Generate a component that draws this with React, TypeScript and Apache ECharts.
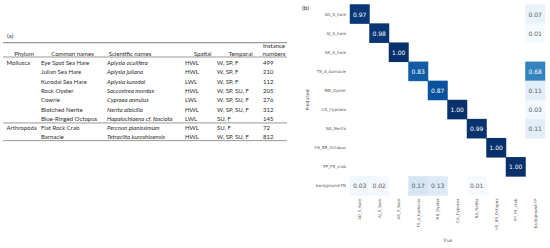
import React, { useEffect, useRef } from "react";
import * as echarts from "echarts";

// ---- Table (a) data ----
const tableHeaders = ["Phylum", "Common names", "Scientific names", "Spatial", "Temporal"];
const instanceHeader = ["Instance", "numbers"];
const phyla = ["Mollusca", "", "", "", "", "", "", "Arthropoda", ""];
const commonNames = [
  "Eye Spot Sea Hare",
  "Julian Sea Hare",
  "Kurodai Sea Hare",
  "Rock Oyster",
  "Cowrie",
  "Blotched Nerite",
  "Blue-Ringed Octopus",
  "Flat Rock Crab",
  "Barnacle",
];
const scientificNames = [
  "Aplysia oculifera",
  "Aplysia juliana",
  "Aplysia kurodai",
  "Saccostrea mordax",
  "Cypraea annulus",
  "Nerita albicilla",
  "Hapalochlaena cf. fasciata",
  "Percnon planissimum",
  "Tetraclita kuroshioensis",
];
const spatial = ["HWL", "HWL", "LWL", "HWL", "LWL", "HWL", "LWL", "HWL", "HWL"];
const temporal = [
  "W, SP, F",
  "W, SP, F",
  "W, SP, F",
  "W, SP, SU, F",
  "W, SP, SU, F",
  "W, SP, SU, F",
  "SU, F",
  "SU, F",
  "W, SP, SU, F",
];
const instances = [499, 210, 112, 205, 276, 312, 145, 72, 812];

// ---- Confusion matrix (b) data ----
const trueLabels = [
  "AO_S_hare",
  "AJ_S_hare",
  "AK_S_hare",
  "TS_A_barnacle",
  "MB_Oyster",
  "CA_Cypraea",
  "NA_Nerita",
  "HS_BR_Octopus",
  "PP_FR_crab",
  "background FP",
];
const predLabels = [
  "AO_S_hare",
  "AJ_S_hare",
  "AK_S_hare",
  "TS_A_barnacle",
  "MB_Oyster",
  "CA_Cypraea",
  "NA_Nerita",
  "HS_BR_Octopus",
  "PP_FR_crab",
  "background FN",
];
const matrix = [
  [0.97, 0, 0, 0, 0, 0, 0, 0, 0, 0.07],
  [0, 0.98, 0, 0, 0, 0, 0, 0, 0, 0.01],
  [0, 0, 1.0, 0, 0, 0, 0, 0, 0, 0],
  [0, 0, 0, 0.83, 0, 0, 0, 0, 0, 0.68],
  [0, 0, 0, 0, 0.87, 0, 0, 0, 0, 0.11],
  [0, 0, 0, 0, 0, 1.0, 0, 0, 0, 0.03],
  [0, 0, 0, 0, 0, 0, 0.99, 0, 0, 0.11],
  [0, 0, 0, 0, 0, 0, 0, 1.0, 0, 0],
  [0, 0, 0, 0, 0, 0, 0, 0, 1.0, 0],
  [0.03, 0.02, 0, 0.17, 0.13, 0, 0.01, 0, 0, 0],
];

const blues = [
  "#f7fbff",
  "#deebf7",
  "#c6dbef",
  "#9ecae1",
  "#6baed6",
  "#4292c6",
  "#2171b5",
  "#08519c",
  "#08306b",
];

const TFONT = "Lato, 'Open Sans', sans-serif";
const TCOLOR = "#2b2b2b";

function txt(text: string, x: number, y: number, align: string, extra: any = {}) {
  return {
    type: "text",
    x,
    y,
    silent: true,
    style: {
      text,
      fontFamily: TFONT,
      fontSize: 6,
      fill: TCOLOR,
      align,
      verticalAlign: "middle",
      textAlign: align,
      textVerticalAlign: "middle",
      ...extra,
    },
  };
}

function hline(y: number, x1: number, x2: number, w: number, color: string) {
  return {
    type: "line",
    silent: true,
    shape: { x1, y1: y, x2, y2: y },
    style: { stroke: color, lineWidth: w },
  };
}

export default function App() {
  const ref = useRef<HTMLDivElement>(null);

  useEffect(() => {
    if (!ref.current) return;
    const chart = echarts.init(ref.current, undefined, { renderer: "svg" });

    // table layout
    const rowY0 = 62.5;
    const rowH = 9.3;
    const colX = [6.5, 41, 107, 185, 217, 263];
    const headerX = [24, 72.5, 130, 202.5, 240.5];
    const headerY = 53;
    const graphics: any[] = [];
    graphics.push(txt("(a)", 7, 35, "left", { fontSize: 6.5 }));
    graphics.push(hline(42.7, 3, 287, 1.3, "#9a9a9a"));
    tableHeaders.forEach((h, k) => graphics.push(txt(h, headerX[k], headerY, "center")));
    graphics.push(txt(instanceHeader[0], 274, 45, "center"));
    graphics.push(txt(instanceHeader[1], 274, headerY, "center"));
    graphics.push(hline(57, 3, 287, 0.6, "#555"));
    commonNames.forEach((_, i) => {
      const y = rowY0 + rowH * i;
      if (phyla[i]) graphics.push(txt(phyla[i], colX[0], y, "left"));
      graphics.push(txt(commonNames[i], colX[1], y, "left"));
      graphics.push(txt(scientificNames[i], colX[2], y, "left", { fontStyle: "italic" }));
      graphics.push(txt(spatial[i], colX[3], y, "left"));
      graphics.push(txt(temporal[i], colX[4], y, "left"));
      graphics.push(txt(String(instances[i]), colX[5], y, "left"));
    });
    graphics.push(hline(rowY0 + rowH * 6.5, 3, 287, 0.6, "#555"));
    graphics.push(hline(rowY0 + rowH * 8.4, 3, 287, 0.6, "#555"));
    graphics.push(txt("(b)", 302, 7, "left", { fontSize: 6.5 }));

    const data: any[] = [];
    matrix.forEach((row, i) =>
      row.forEach((v, j) => {
        if (v > 0) {
          data.push({
            value: [j, i, v],
            label: { color: v > 0.5 ? "#ffffff" : "#5a5a5a" },
          });
        }
      })
    );

    chart.setOption({
      animation: false,
      graphic: graphics,
      grid: { left: 350, top: 4.5, width: 195, height: 195 },
      xAxis: {
        type: "category",
        data: trueLabels,
        position: "bottom",
        axisLine: { show: false },
        axisTick: { show: false },
        splitArea: { show: false },
        axisLabel: {
          rotate: 90,
          fontSize: 4,
          color: "#555",
          margin: 3,
          fontFamily: "DejaVu Sans",
          interval: 0,
        },
        name: "True",
        nameLocation: "middle",
        nameGap: 40,
        nameTextStyle: { fontSize: 4.5, color: "#555", fontFamily: "DejaVu Sans" },
      },
      yAxis: {
        type: "category",
        data: predLabels,
        inverse: true,
        axisLine: { show: false },
        axisTick: { show: false },
        splitArea: { show: false },
        axisLabel: {
          fontSize: 4,
          color: "#555",
          margin: 4,
          fontFamily: "DejaVu Sans",
          interval: 0,
        },
        name: "Predicted",
        nameLocation: "middle",
        nameRotate: 90,
        nameGap: 40,
        nameTextStyle: { fontSize: 4.5, color: "#555", fontFamily: "DejaVu Sans" },
      },
      visualMap: {
        type: "continuous",
        show: false,
        min: 0,
        max: 1,
        dimension: 2,
        inRange: { color: blues },
      },
      series: [
        {
          type: "heatmap",
          data,
          label: {
            show: true,
            fontSize: 6,
            fontFamily: "DejaVu Sans",
            formatter: (p: any) => p.value[2].toFixed(2),
          },
          emphasis: { disabled: true },
        },
      ],
    });

    return () => chart.dispose();
  }, []);

  return (
    <div
      ref={ref}
      style={{ position: "fixed", left: 0, top: 0, width: 550, height: 248, background: "#fff" }}
    />
  );
}
